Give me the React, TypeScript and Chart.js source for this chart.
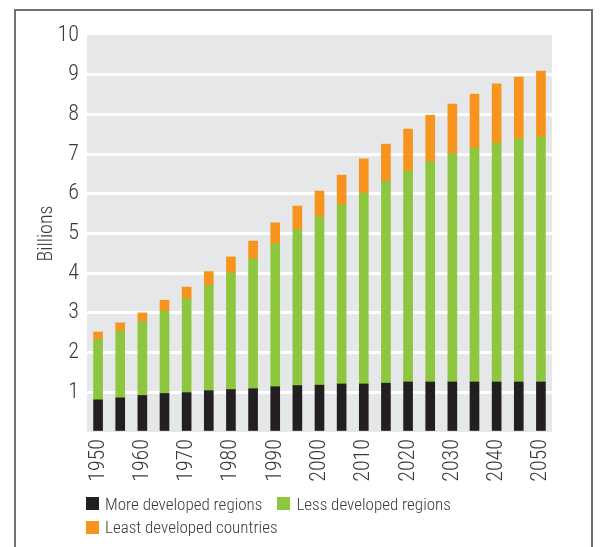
import React, { useEffect, useRef } from "react";
import { Chart, registerables } from "chart.js";

Chart.register(...registerables);

const years: string[] = [
  "1950", "1955", "1960", "1965", "1970", "1975", "1980", "1985", "1990", "1995", "2000",
  "2005", "2010", "2015", "2020", "2025", "2030", "2035", "2040", "2045", "2050",
];

// Billions (stack segments)
const moreDeveloped: number[] = [
  0.81, 0.86, 0.92, 0.97, 0.99, 1.04, 1.07, 1.09, 1.14, 1.17, 1.18,
  1.21, 1.21, 1.23, 1.26, 1.26, 1.26, 1.26, 1.26, 1.26, 1.26,
];
const lessDeveloped: number[] = [
  1.52, 1.68, 1.86, 2.08, 2.36, 2.65, 2.93, 3.27, 3.6, 3.93, 4.24,
  4.51, 4.81, 5.09, 5.31, 5.55, 5.75, 5.9, 6.02, 6.12, 6.17,
];
const leastDeveloped: number[] = [
  0.19, 0.21, 0.22, 0.27, 0.3, 0.35, 0.41, 0.45, 0.53, 0.59, 0.65,
  0.75, 0.86, 0.93, 1.06, 1.17, 1.25, 1.35, 1.49, 1.56, 1.66,
];

const seriesNames: string[] = [
  "More developed regions",
  "Less developed regions",
  "Least developed countries",
];
const seriesColors: string[] = ["#231f20", "#8dc63f", "#f7941d"];

const yTicks: number[] = [0, 1, 2, 3, 4, 5, 6, 7, 8, 9, 10];

const FONT = '"Roboto Condensed", "Liberation Sans", sans-serif';
const TEXT = "#3a3a3c";

const plotBg = {
  id: "plotBg",
  beforeDraw(chart: any) {
    const { ctx, chartArea } = chart;
    if (!chartArea) return;
    ctx.save();
    ctx.fillStyle = "#e6e7e8";
    ctx.fillRect(chartArea.left, chartArea.top, chartArea.right - chartArea.left, chartArea.bottom - chartArea.top);
    ctx.restore();
  },
};

export default function App() {
  const ref = useRef<HTMLCanvasElement | null>(null);

  useEffect(() => {
    if (!ref.current) return;
    const data = [moreDeveloped, lessDeveloped, leastDeveloped];
    const chart = new Chart(ref.current, {
      type: "bar",
      data: {
        labels: years,
        datasets: data.map((d, i) => ({
          label: seriesNames[i],
          data: d,
          backgroundColor: seriesColors[i],
          borderWidth: 0,
          barThickness: 9,
        })),
      },
      options: {
        animation: false,
        responsive: false,
        maintainAspectRatio: false,
        layout: { padding: { left: 0, top: 35, right: 48, bottom: 0 } },
        plugins: {
          legend: { display: false },
          tooltip: { enabled: false },
        },
        scales: {
          x: {
            stacked: true,
            grid: { display: false, drawTicks: false },
            border: { display: false },
            ticks: {
              autoSkip: false,
              maxRotation: 90,
              minRotation: 90,
              padding: 7,
              color: TEXT,
              font: { family: FONT, size: 22, weight: "300" },
              callback: function (this: any, value: any, index: number) {
                return index % 2 === 0 ? years[index] : "";
              },
            },
            afterFit: (scale: any) => {
              scale.height = 115;
            },
          },
          y: {
            stacked: true,
            min: yTicks[0],
            max: yTicks[yTicks.length - 1],
            grid: {
              drawTicks: false,
              lineWidth: 3,
              color: (ctx: any) =>
                ctx.tick && (ctx.tick.value === 0 || ctx.tick.value === 10) ? "rgba(0,0,0,0)" : "#ffffff",
            },
            border: { display: false },
            afterBuildTicks: (scale: any) => {
              scale.ticks = yTicks.map((v) => ({ value: v }));
            },
            ticks: {
              padding: 8,
              color: TEXT,
              font: { family: FONT, size: 22, weight: "300" },
              callback: (v: any) => (v === 0 ? "" : String(v)),
            },
            title: {
              display: true,
              text: "Billions",
              color: TEXT,
              font: { family: FONT, size: 20, weight: "300", lineHeight: 1.2 },
              padding: { top: 35, bottom: 0 },
            },
            afterFit: (scale: any) => {
              scale.width = 87;
            },
          },
        },
      },
      plugins: [plotBg],
    });
    return () => chart.destroy();
  }, []);

  const legendItem = (i: number) => (
    <div
      key={i}
      style={{ display: "inline-flex", alignItems: "center", height: 23.4, marginRight: 15, whiteSpace: "nowrap" }}
    >
      <span style={{ display: "inline-block", width: 13, height: 13, background: seriesColors[i], marginRight: 6 }} />
      <span style={{ fontFamily: FONT, fontWeight: 300, fontSize: 17, color: TEXT, lineHeight: "20px" }}>
        {seriesNames[i]}
      </span>
    </div>
  );

  return (
    <div
      style={{
        position: "fixed",
        left: 0,
        top: 0,
        width: 600,
        height: 547,
        overflow: "hidden",
        background: "#ffffff",
      }}
    >
      <div
        style={{
          position: "absolute",
          left: 14,
          top: 9,
          width: 575,
          height: 700,
          borderStyle: "solid",
          borderColor: "#707070",
          borderWidth: "2px 2px 0 2px",
        }}
      />
      <canvas ref={ref} width={600} height={547} style={{ position: "absolute", left: 0, top: 0, width: 600, height: 547 }} />
      <div
        style={{
          position: "absolute",
          left: 86,
          top: 492,
          width: 466,
          display: "flex",
          flexWrap: "wrap",
        }}
      >
        {seriesNames.map((_, i) => legendItem(i))}
      </div>
    </div>
  );
}
